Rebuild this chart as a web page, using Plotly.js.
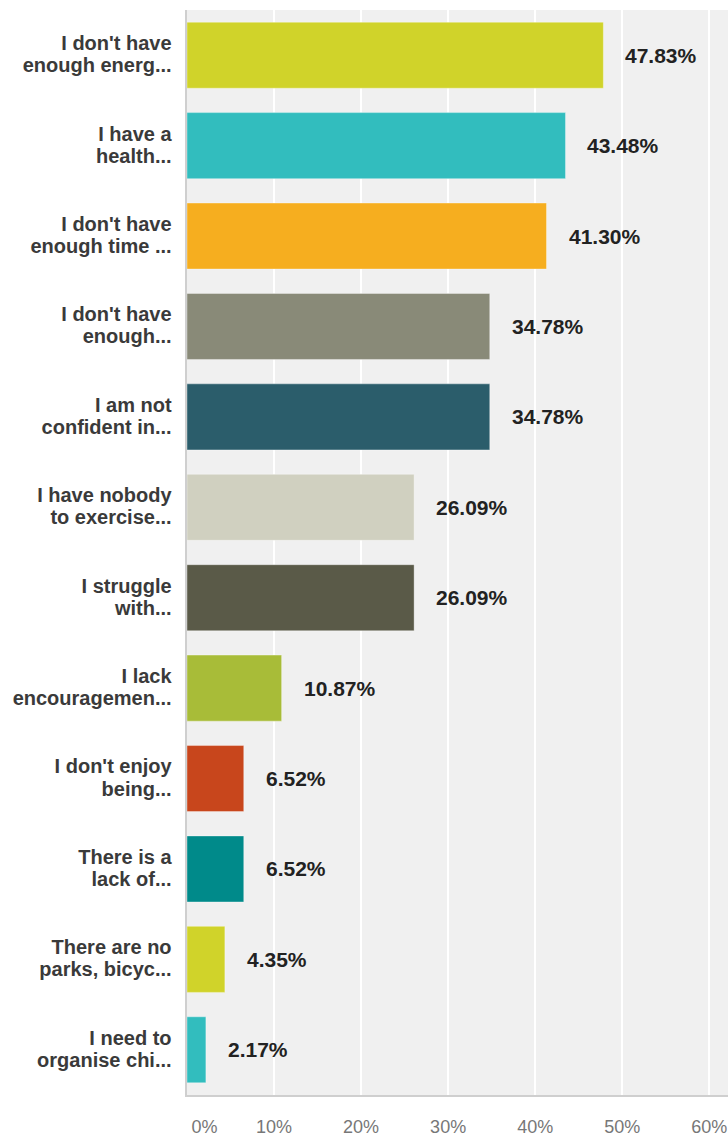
<!DOCTYPE html>
<html>
<head>
<meta charset="utf-8">
<script src="https://cdn.plot.ly/plotly-3.0.1.min.js"></script>
<style>html,body{margin:0;padding:0;background:#fff;}#chart{width:728px;height:1139px;}</style>
</head>
<body>
<div id="chart"></div>
<script>
var categories = [
  "I don't have<br>enough energ...",
  "I have a<br>health...",
  "I don't have<br>enough time ...",
  "I don't have<br>enough...",
  "I am not<br>confident in...",
  "I have nobody<br>to exercise...",
  "I struggle<br>with...",
  "I lack<br>encouragemen...",
  "I don't enjoy<br>being...",
  "There is a<br>lack of...",
  "There are no<br>parks, bicyc...",
  "I need to<br>organise chi..."
];
var values = [47.83, 43.48, 41.30, 34.78, 34.78, 26.09, 26.09, 10.87, 6.52, 6.52, 4.35, 2.17];
var colors = ["#D0D32A", "#32BDBE", "#F6AE1F", "#898A78", "#2B5D6B", "#D0D0C0", "#5A5A48", "#A8BC38", "#C8461C", "#008A8A", "#D0D32A", "#32BDBE"];
var tickVals = [0, 10, 20, 30, 40, 50, 60];
var tickLabels = ["\u00a0\u00a0\u00a0\u00a0\u00a0\u00a0\u00a00%", "10%", "20%", "30%", "40%", "50%", "60%"];

var FONT = "Arial, 'Liberation Sans', sans-serif";

function bigLines(s) {
  return s.split("<br>").map(function (p) {
    return "<span style='font-size:20px'>" + p + "</span>";
  }).join("<br>");
}
var yText = categories.map(bigLines);

var trace = {
  type: "bar",
  orientation: "h",
  y: categories,
  x: values,
  marker: { color: colors, line: { color: "rgba(255,255,255,0.35)", width: 1 } },
  hoverinfo: "none"
};

var annotations = values.map(function (v, i) {
  return {
    x: v, y: categories[i], xref: "x", yref: "y",
    text: v.toFixed(2) + "%",
    showarrow: false, xanchor: "left", yanchor: "middle", xshift: 20,
    font: { family: FONT, size: 21, color: "#222222", weight: "bold" }
  };
});

var layout = {
  width: 728, height: 1139,
  margin: { l: 187, r: 0, t: 10, b: 44 },
  paper_bgcolor: "#ffffff",
  plot_bgcolor: "#f0f0f0",
  showlegend: false,
  bargap: 0.27,
  xaxis: {
    range: [0, 62.15],
    tickvals: tickVals,
    ticktext: tickLabels,
    showgrid: true, gridcolor: "#ffffff", gridwidth: 2,
    zeroline: false,
    showline: true, linecolor: "#cfcfcf", linewidth: 2,
    ticks: "",
    ticklabelstandoff: 14,
    tickfont: { family: FONT, size: 18, color: "#777777" },
    fixedrange: true
  },
  yaxis: {
    autorange: "reversed",
    tickvals: categories,
    ticktext: yText,
    showgrid: false, zeroline: false,
    showline: true, linecolor: "#cfcfcf", linewidth: 2,
    ticks: "",
    ticklabelstandoff: 10,
    tickfont: { family: FONT, size: 17, color: "#3a3a3a", weight: "bold" },
    fixedrange: true
  },
  annotations: annotations
};

Plotly.newPlot("chart", [trace], layout, { displayModeBar: false, staticPlot: true });
</script>
</body>
</html>
